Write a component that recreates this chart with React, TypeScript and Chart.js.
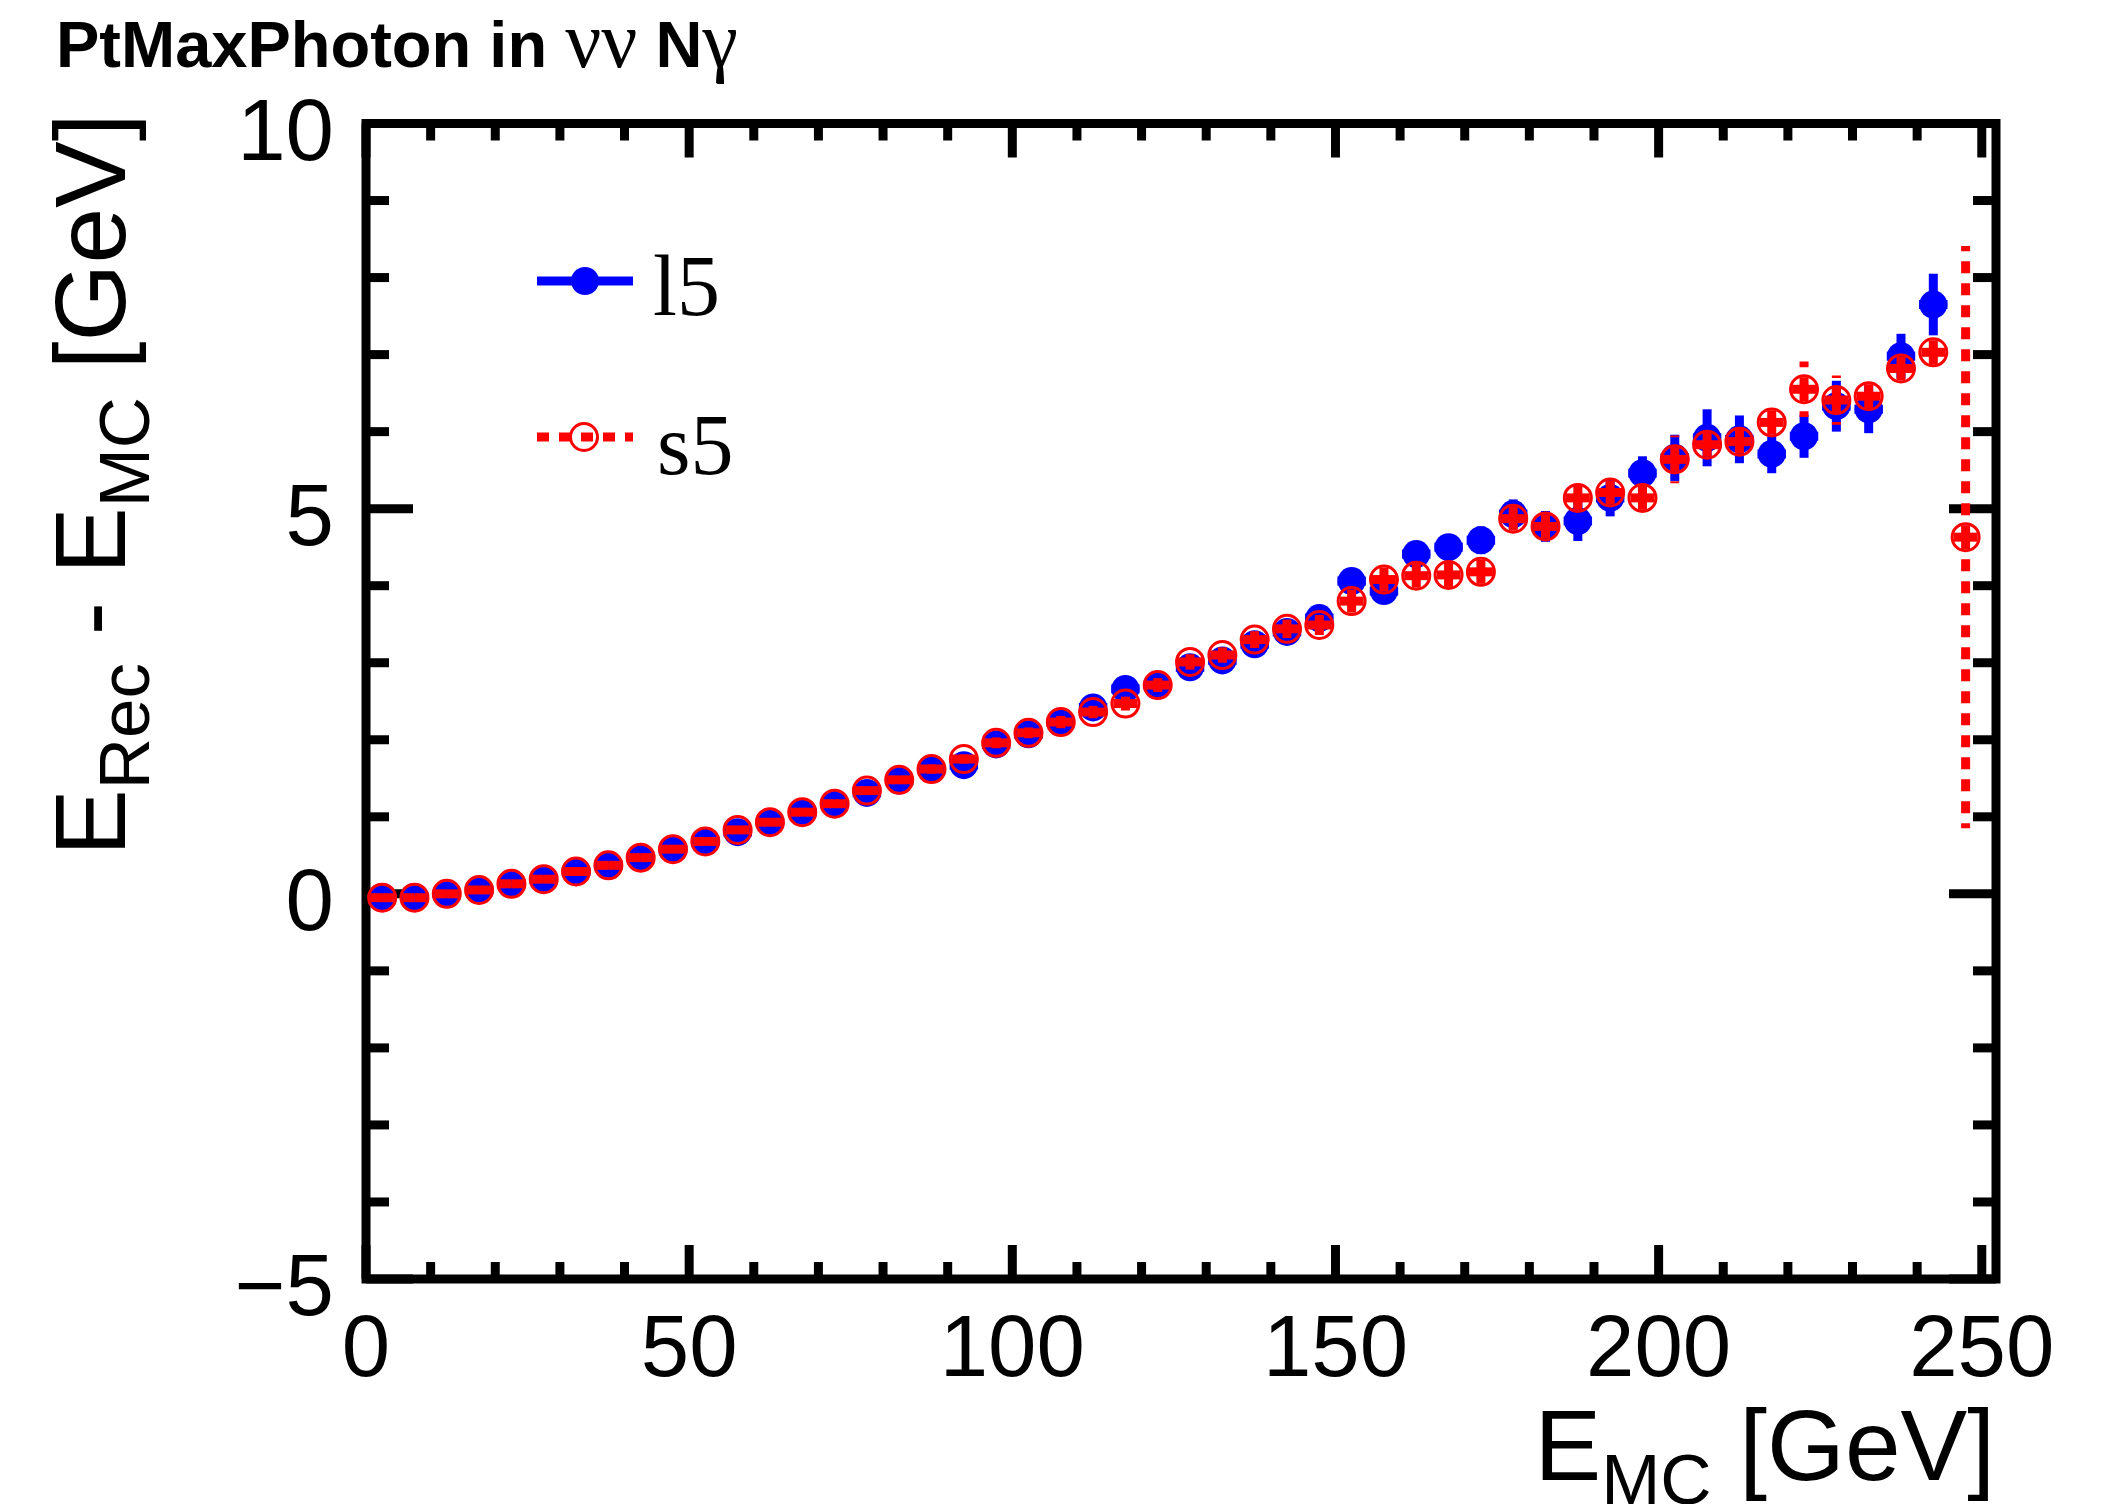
import React, { useEffect, useRef } from "react";
import { Chart, registerables } from "chart.js";

Chart.register(...registerables);

// ---------------- data ----------------
const binCenters = [
  2.5, 7.5, 12.5, 17.5, 22.5, 27.5, 32.5, 37.5, 42.5, 47.5,
  52.5, 57.5, 62.5, 67.5, 72.5, 77.5, 82.5, 87.5, 92.5, 97.5,
  102.5, 107.5, 112.5, 117.5, 122.5, 127.5, 132.5, 137.5, 142.5, 147.5,
  152.5, 157.5, 162.5, 167.5, 172.5, 177.5, 182.5, 187.5, 192.5, 197.5,
  202.5, 207.5, 212.5, 217.5, 222.5, 227.5, 232.5, 237.5, 242.5, 247.5,
];

const l5Values = [
  -0.04, -0.04, 0.0, 0.05, 0.13, 0.19, 0.29, 0.37, 0.47, 0.58,
  0.68, 0.8, 0.93, 1.06, 1.17, 1.31, 1.47, 1.62, 1.67, 1.94,
  2.07, 2.23, 2.42, 2.66, 2.71, 2.94, 3.03, 3.24, 3.4, 3.58,
  4.06, 3.93, 4.41, 4.5, 4.59, 4.93, 4.77, 4.84, 5.14, 5.46,
  5.66, 5.92, 5.9, 5.71, 5.94, 6.33, 6.29, 6.98, 7.65, null,
];
const l5Errors = [
  0.02, 0.02, 0.02, 0.02, 0.02, 0.03, 0.03, 0.03, 0.03, 0.03,
  0.04, 0.04, 0.04, 0.04, 0.04, 0.05, 0.05, 0.05, 0.05, 0.05,
  0.06, 0.07, 0.07, 0.08, 0.08, 0.09, 0.09, 0.1, 0.11, 0.12,
  0.14, 0.15, 0.16, 0.17, 0.18, 0.19, 0.2, 0.26, 0.24, 0.22,
  0.3, 0.37, 0.31, 0.25, 0.28, 0.33, 0.31, 0.29, 0.4, null,
];

const s5Values = [
  -0.05, -0.05, 0.0, 0.05, 0.13, 0.19, 0.29, 0.37, 0.47, 0.58,
  0.68, 0.83, 0.93, 1.06, 1.17, 1.34, 1.48, 1.62, 1.75, 1.96,
  2.09, 2.23, 2.36, 2.47, 2.71, 3.01, 3.1, 3.3, 3.44, 3.49,
  3.8, 4.08, 4.13, 4.14, 4.18, 4.87, 4.77, 5.14, 5.21, 5.14,
  5.64, 5.83, 5.87, 6.12, 6.55, 6.41, 6.46, 6.82, 7.03, 4.63,
];
const s5Errors = [
  0.02, 0.02, 0.02, 0.02, 0.02, 0.03, 0.03, 0.03, 0.03, 0.03,
  0.04, 0.04, 0.04, 0.05, 0.05, 0.05, 0.05, 0.06, 0.06, 0.07,
  0.07, 0.08, 0.08, 0.09, 0.09, 0.1, 0.1, 0.11, 0.12, 0.13,
  0.15, 0.16, 0.17, 0.18, 0.18, 0.19, 0.2, 0.25, 0.26, 0.23,
  0.31, 0.28, 0.28, 0.24, 0.36, 0.32, 0.27, 0.28, 0.28, 3.78,
];

const xErrorHalf = 2.2;
const xMin = 0;
const xMax = 252.2;
const yMin = -5;
const yMax = 10;
const xTickValues = [0, 50, 100, 150, 200, 250];
const xTickLabels = ["0", "50", "100", "150", "200", "250"];
const yTickValues = [-5, 0, 5, 10];
const yTickLabels = ["\u22125", "0", "5", "10"];
const seriesNames = ["l5", "s5"];
const titleParts = [
  { t: "PtMaxPhoton in ", greek: false },
  { t: "\u03bd\u03bd", greek: true },
  { t: " N", greek: false },
  { t: "\u03b3", greek: true },
];
const xTitleParts = [
  { t: "E", sub: false },
  { t: "MC", sub: true },
  { t: " [GeV]", sub: false },
];
const yTitleParts = [
  { t: "E", sub: false },
  { t: "Rec", sub: true },
  { t: " - E", sub: false },
  { t: "MC", sub: true },
  { t: " [GeV]", sub: false },
];

// ---------------- styles ----------------
const BLUE = "#0000ff";
const RED = "#ff0000";
const SANS = '"Liberation Sans", Arial, sans-serif';
const SERIF = '"Liberation Serif", "Times New Roman", serif';
const FRAME_W = 9;
const BAR_W = 9;
const DOT = [12, 10];
const TICK_FONT = 87;
const TITLE_FONT = 100;
const SUB_FONT = 71;
const SUB_SHIFT = 24;

function drawRich(ctx: CanvasRenderingContext2D, parts: { t: string; sub: boolean }[], endX: number, baseY: number) {
  let total = 0;
  const widths = parts.map((p) => {
    ctx.font = `${p.sub ? SUB_FONT : TITLE_FONT}px ${SANS}`;
    const w = ctx.measureText(p.t).width;
    total += w;
    return w;
  });
  let x = endX - total;
  ctx.textAlign = "left";
  ctx.textBaseline = "alphabetic";
  parts.forEach((p, i) => {
    ctx.font = `${p.sub ? SUB_FONT : TITLE_FONT}px ${SANS}`;
    ctx.fillText(p.t, x, baseY + (p.sub ? SUB_SHIFT : 0));
    x += widths[i];
  });
}

function strokeSeg(ctx: CanvasRenderingContext2D, x1: number, y1: number, x2: number, y2: number) {
  ctx.beginPath();
  ctx.moveTo(x1, y1);
  ctx.lineTo(x2, y2);
  ctx.stroke();
}

const errorPlugin = {
  id: "errorBars",
  beforeDatasetDraw(chart: any, args: any) {
    const ds = chart.data.datasets[args.index];
    const { ctx, scales } = chart;
    const xs = scales.x;
    const ys = scales.y;
    const vals: (number | null)[] = ds.vals;
    const errs: (number | null)[] = ds.errs;
    ctx.save();
    ctx.lineWidth = BAR_W;
    ctx.lineCap = "butt";
    ctx.strokeStyle = ds.borderColor;
    const dotted = ds.dotted;
    binCenters.forEach((xc, i) => {
      const v = vals[i];
      const e = errs[i];
      if (v === null || e === null) return;
      const px = xs.getPixelForValue(xc);
      const py = ys.getPixelForValue(v);
      const pt = ys.getPixelForValue(v + e);
      const pb = ys.getPixelForValue(v - e);
      const pl = xs.getPixelForValue(xc - xErrorHalf);
      const pr = xs.getPixelForValue(xc + xErrorHalf);
      ctx.setLineDash(dotted ? DOT : []);
      strokeSeg(ctx, px, py, px, pt);
      strokeSeg(ctx, px, py, px, pb);
      strokeSeg(ctx, px, py, pl, py);
      strokeSeg(ctx, px, py, pr, py);
    });
    ctx.restore();
  },
};

const framePlugin = {
  id: "rootFrame",
  beforeDatasetsDraw(chart: any) {
    const { ctx, chartArea: a, scales } = chart;
    const xs = scales.x;
    const ys = scales.y;
    ctx.save();
    ctx.strokeStyle = "#000";
    ctx.lineWidth = FRAME_W;
    ctx.lineCap = "butt";
    for (let v = 0; v <= 250; v += 10) {
      const px = xs.getPixelForValue(v);
      const len = v % 50 === 0 ? 34 : 17;
      strokeSeg(ctx, px, a.bottom, px, a.bottom - len);
      strokeSeg(ctx, px, a.top, px, a.top + len);
    }
    for (let v = yMin; v <= yMax; v += 1) {
      const py = ys.getPixelForValue(v);
      const len = v % 5 === 0 ? 47 : 23;
      strokeSeg(ctx, a.left, py, a.left + len, py);
      strokeSeg(ctx, a.right, py, a.right - len, py);
    }
    ctx.lineJoin = "miter";
    ctx.strokeRect(a.left, a.top, a.right - a.left, a.bottom - a.top);

    // tick labels
    ctx.fillStyle = "#000";
    ctx.font = `${TICK_FONT}px ${SANS}`;
    ctx.textBaseline = "alphabetic";
    ctx.textAlign = "center";
    xTickValues.forEach((v, i) => {
      ctx.fillText(xTickLabels[i], xs.getPixelForValue(v), a.bottom + 97);
    });
    ctx.textAlign = "right";
    yTickValues.forEach((v, i) => {
      ctx.fillText(yTickLabels[i], a.left - 32, ys.getPixelForValue(v) + 36);
    });
    ctx.restore();
  },
  afterDraw(chart: any) {
    const { ctx, chartArea: a } = chart;
    ctx.save();
    ctx.fillStyle = "#000";
    // x title
    drawRich(ctx, xTitleParts, a.right - 1, 1480);
    // y title (rotated)
    ctx.save();
    ctx.translate(125, a.top);
    ctx.rotate(-Math.PI / 2);
    drawRich(ctx, yTitleParts, 10, 0);
    ctx.restore();

    // main title
    let tx = 56;
    ctx.textAlign = "left";
    ctx.textBaseline = "alphabetic";
    titleParts.forEach((p) => {
      ctx.font = p.greek ? `80px ${SERIF}` : `bold 65px ${SANS}`;
      ctx.fillText(p.t, tx, 67);
      tx += ctx.measureText(p.t).width;
    });

    // legend
    const rows = [
      { name: seriesNames[0], color: BLUE, y: 281, filled: true, dotted: false, textX: 653, base: 315 },
      { name: seriesNames[1], color: RED, y: 437, filled: false, dotted: true, textX: 657, base: 474 },
    ];
    rows.forEach((r) => {
      ctx.strokeStyle = r.color;
      ctx.fillStyle = r.color;
      ctx.lineWidth = BAR_W;
      ctx.lineCap = "butt";
      ctx.setLineDash(r.dotted ? DOT : []);
      strokeSeg(ctx, 537, r.y, 633, r.y);
      ctx.setLineDash([]);
      ctx.beginPath();
      if (r.filled) {
        ctx.arc(585, r.y, 14, 0, Math.PI * 2);
        ctx.fill();
      } else {
        ctx.lineWidth = 3;
        ctx.arc(584, r.y, 13.5, 0, Math.PI * 2);
        ctx.stroke();
      }
      ctx.fillStyle = "#000";
      ctx.font = `86px ${SERIF}`;
      ctx.fillText(r.name, r.textX, r.base);
    });
    ctx.restore();
  },
};

export default function App() {
  const canvasRef = useRef<HTMLCanvasElement | null>(null);

  useEffect(() => {
    const canvas = canvasRef.current;
    if (!canvas) return;
    const l5Data = binCenters
      .map((x, i) => ({ x, y: l5Values[i] }))
      .filter((p) => p.y !== null);
    const s5Data = binCenters
      .map((x, i) => ({ x, y: s5Values[i] }))
      .filter((p) => p.y !== null);

    const chart = new Chart(canvas, {
      type: "scatter",
      data: {
        datasets: [
          {
            label: seriesNames[0],
            data: l5Data as any,
            vals: l5Values,
            errs: l5Errors,
            dotted: false,
            order: 1,
            pointRadius: 14,
            pointHoverRadius: 14,
            pointBackgroundColor: BLUE,
            pointBorderWidth: 0,
            borderColor: BLUE,
            backgroundColor: BLUE,
            showLine: false,
            clip: false,
          } as any,
          {
            label: seriesNames[1],
            data: s5Data as any,
            vals: s5Values,
            errs: s5Errors,
            dotted: true,
            order: 0,
            pointRadius: 13.5,
            pointHoverRadius: 13.5,
            pointBackgroundColor: "rgba(0,0,0,0)",
            pointBorderColor: RED,
            pointBorderWidth: 3,
            borderColor: RED,
            backgroundColor: "rgba(0,0,0,0)",
            showLine: false,
            clip: false,
          } as any,
        ],
      },
      options: {
        responsive: false,
        animation: false,
        devicePixelRatio: 1,
        events: [],
        layout: { padding: { left: 366, right: 114, top: 123.5, bottom: 225 } },
        plugins: {
          legend: { display: false },
          title: { display: false },
          tooltip: { enabled: false },
        },
        scales: {
          x: { type: "linear", min: xMin, max: xMax, display: false },
          y: { type: "linear", min: yMin, max: yMax, display: false },
        },
      },
      plugins: [framePlugin, errorPlugin],
    });
    return () => chart.destroy();
  }, []);

  return (
    <div style={{ position: "absolute", left: 0, top: 0, width: 2110, height: 1504, background: "#fff" }}>
      <canvas ref={canvasRef} width={2110} height={1504} style={{ display: "block", width: 2110, height: 1504 }} />
    </div>
  );
}
